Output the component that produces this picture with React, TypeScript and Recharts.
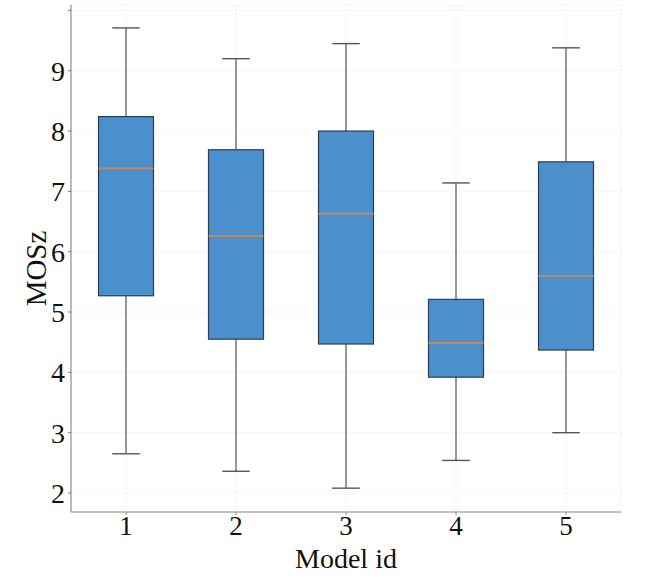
import React from "react";
import { ComposedChart, Bar, XAxis, YAxis, CartesianGrid } from "recharts";

// Estadisticas de cada caja
const models = ["1", "2", "3", "4", "5"];
const lowWhisker = [2.65, 2.36, 2.08, 2.54, 3.0];
const q1 = [5.27, 4.55, 4.47, 3.92, 4.37];
const median = [7.38, 6.26, 6.63, 4.49, 5.6];
const q3 = [8.24, 7.69, 8.0, 5.21, 7.49];
const highWhisker = [9.71, 9.2, 9.45, 7.14, 9.38];
const yTicks = [2, 3, 4, 5, 6, 7, 8, 9, 10];

const data = models.map((m, i) => ({
  model: m,
  min: lowWhisker[i],
  q1: q1[i],
  median: median[i],
  q3: q3[i],
  max: highWhisker[i],
}));

const FONT = "'Liberation Serif', 'Times New Roman', serif";
const BOX_FILL = "#4b8fcc";
const BOX_EDGE = "#2e3d4d";
const MEDIAN = "#c28b5e";
const WHISKER = "#555555";

// Dibuja la caja completa a partir del rango [min, max] que calcula el Bar
function BoxShape(props: any) {
  const { x, y, width, height, payload } = props;
  const top = Math.min(y, y + height);
  const bottom = Math.max(y, y + height);
  const { min, max } = payload;
  const toPx = (v: number) => bottom - ((v - min) / (max - min)) * (bottom - top);
  const cx = x + width / 2;
  const boxW = width / 2;
  const capW = width / 4;
  const yQ1 = toPx(payload.q1);
  const yQ3 = toPx(payload.q3);
  const yMed = toPx(payload.median);
  return (
    <g>
      <line x1={cx} x2={cx} y1={top} y2={yQ3} stroke={WHISKER} strokeWidth={1.2} />
      <line x1={cx} x2={cx} y1={yQ1} y2={bottom} stroke={WHISKER} strokeWidth={1.2} />
      <line x1={cx - capW / 2} x2={cx + capW / 2} y1={top} y2={top} stroke={WHISKER} strokeWidth={1.4} />
      <line x1={cx - capW / 2} x2={cx + capW / 2} y1={bottom} y2={bottom} stroke={WHISKER} strokeWidth={1.4} />
      <rect
        x={cx - boxW / 2}
        y={yQ3}
        width={boxW}
        height={yQ1 - yQ3}
        fill={BOX_FILL}
        stroke={BOX_EDGE}
        strokeWidth={1.2}
      />
      <line x1={cx - boxW / 2} x2={cx + boxW / 2} y1={yMed} y2={yMed} stroke={MEDIAN} strokeWidth={1.8} />
    </g>
  );
}

function YLabel(props: any) {
  const vb = props.viewBox || { x: 0, y: 0, width: 0, height: 0 };
  const cx = vb.x + 36;
  const cy = vb.y + vb.height / 2 + 10;
  return (
    <text
      x={cx}
      y={cy}
      transform={`rotate(-90, ${cx}, ${cy})`}
      textAnchor="middle"
      dominantBaseline="central"
      fontFamily={FONT}
      fontSize={29}
      fill="#111"
    >
      MOSz
    </text>
  );
}

export default function App() {
  return (
    <div style={{ position: "absolute", left: 0, top: 0, background: "#fff" }}>
      <ComposedChart
        width={664}
        height={577}
        data={data}
        margin={{ top: 5, right: 43, left: 0, bottom: 0 }}
        barCategoryGap={0}
      >
        <CartesianGrid stroke="#ececec" strokeDasharray="2 2" />
        <XAxis
          dataKey="model"
          height={65}
          tickSize={3}
          tickMargin={1}
          stroke="#8a8a8a"
          tick={{ fontFamily: FONT, fontSize: 27, fill: "#111" }}
          label={{
            value: "Model id",
            position: "insideBottom",
            offset: 9,
            fontFamily: FONT,
            fontSize: 28,
            fill: "#111",
          }}
        />
        <XAxis xAxisId="top" dataKey="model" orientation="top" height={0} tick={false} tickLine={false} stroke="#7a7a7a" />
        <YAxis
          width={71}
          domain={[1.685, 10.09]}
          ticks={yTicks}
          allowDataOverflow
          tickSize={3}
          tickMargin={3}
          stroke="#7a7a7a"
          tickFormatter={(v: number) => (v === 10 ? "" : String(v))}
          tick={{ fontFamily: FONT, fontSize: 28, fill: "#111" }}
          label={<YLabel />}
        />
        <YAxis yAxisId="right" orientation="right" width={0} domain={[1.685, 10.09]} tick={false} tickLine={false} stroke="#7a7a7a" />
        <Bar
          dataKey={(d: any) => [d.min, d.max]}
          shape={<BoxShape />}
          isAnimationActive={false}
        />
      </ComposedChart>
    </div>
  );
}
